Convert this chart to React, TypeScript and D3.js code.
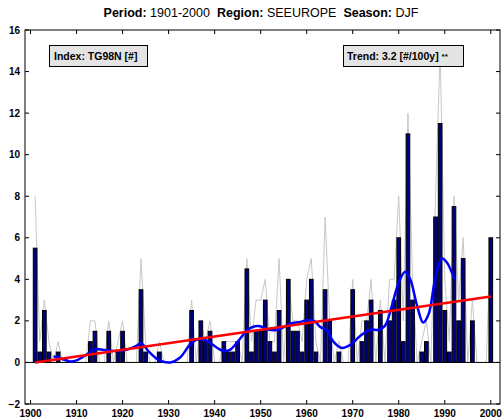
import React from 'react';
import * as d3 from 'd3';

const startYear = 1901;
const barValues = [
  5.5, 0.5, 2.5, 0.5, 0, 0.5, 0, 0, 0, 0,
  0, 0, 1.0, 1.5, 0, 0, 1.5, 0, 0.5, 1.5,
  0, 0, 0, 3.5, 0.5, 0, 0, 0.5, 0, 0,
  0, 0, 0, 0, 2.5, 0, 2.0, 1.0, 1.5, 0,
  0, 1.0, 0.5, 0.5, 1.0, 0, 4.5, 0.5, 1.5, 1.5,
  3.0, 1.0, 0.5, 2.5, 0, 4.0, 1.5, 1.5, 0.5, 3.0,
  4.0, 0.5, 0, 3.5, 2.0, 0, 0.5, 0, 0, 3.5,
  0, 1.0, 2.0, 3.0, 0, 2.5, 0, 2.0, 3.0, 6.0,
  1.0, 11.0, 3.0, 0, 0.5, 1.0, 0, 7.0, 11.5, 2.5,
  0.5, 7.5, 2.0, 5.0, 0, 2.0, 0, 0, 0, 6.0,
];
const grayValues = [
  8, 1, 3, 1, 0, 1, 0, 0, 0, 0,
  0, 0, 2, 2, 0, 0, 2, 0, 1, 2,
  0, 0, 0, 5, 1, 0, 0, 1, 0, 0,
  0, 0, 0, 0, 3, 0, 2, 1, 2, 0,
  0, 1, 1, 1, 1, 0, 5, 1, 3, 3,
  4, 1, 1, 5, 0, 4, 2, 2, 1, 4,
  5, 1, 0, 7, 2, 0, 1, 0, 0, 4,
  0, 2, 2, 4, 0, 3, 0, 4, 4, 8,
  2, 12, 4, 0, 1, 2, 0, 8, 15, 4,
  1, 8, 3, 6, 0, 3, 0, 0, 0, 6,
];
const smoothYears = [
  1905, 1906.5, 1908.6, 1910, 1912, 1914, 1916, 1919, 1921, 1923, 1924, 1925.6, 1927, 1928,
  1930.3, 1932.5, 1934.7, 1936.1, 1937.6, 1939, 1940.5, 1941.9, 1943.4, 1945.2, 1947, 1948.4,
  1949.9, 1951.4, 1953.2, 1954.6, 1956.4, 1958.6, 1960, 1961.6, 1963, 1964.4, 1965.8, 1967.6,
  1969.5, 1971.6, 1973.8, 1975.6, 1977, 1978.5, 1980, 1981.4, 1982.5, 1984, 1985.3, 1986.5,
  1987.9, 1989.4, 1990.5, 1992.1,
];
const smoothValues = [
  0.3, 0.2, 0.05, 0.1, 0.35, 0.64, 0.6, 0.55, 0.62, 0.8, 0.93, 0.55, 0.25, 0.1,
  0.0, 0.24, 0.88, 1.1, 1.1, 0.95, 0.71, 0.55, 0.62, 1.05, 1.53, 1.72,
  1.74, 1.6, 1.55, 1.65, 1.87, 1.95, 2.03, 2.0, 1.7, 1.55, 1.0, 0.7,
  0.85, 1.27, 1.57, 1.57, 1.76, 2.72, 3.85, 4.36, 4.0, 2.72, 1.92, 2.33,
  4.0, 5.0, 4.8, 4.0,
];
const trendYears = [1901, 2000];
const trendValues = [0.0, 3.17];
const xTicks = [1900, 1910, 1920, 1930, 1940, 1950, 1960, 1970, 1980, 1990, 2000];
const yTicks = [-2, 0, 2, 4, 6, 8, 10, 12, 14, 16];

const W = 502;
const H = 420;
const L = 25, R = 500, T = 30, B = 404;
const FONT = '"Liberation Sans", Arial, sans-serif';

export default function App() {
  const x = d3.scaleLinear().domain([1898.8, 2002]).range([L, R]);
  const y = d3.scaleLinear().domain([-2, 16]).range([B, T]);
  const years = barValues.map((_, i) => startYear + i);

  const grayLine = d3.line<number>().x((_, i) => x(years[i])).y((d) => y(d))(grayValues) || '';
  const smoothLine = d3
    .line<number>()
    .x((_, i) => x(smoothYears[i]))
    .y((d) => y(d))
    .curve(d3.curveCatmullRom.alpha(0.5))(smoothValues) || '';
  const trendLine = d3.line<number>().x((_, i) => x(trendYears[i])).y((d) => y(d))(trendValues) || '';

  const bw = x(1900.4) - x(1899.6);

  return (
    <svg width={W} height={H} style={{ position: 'absolute', left: 0, top: 0, background: '#fff' }} fontFamily={FONT}>
      <rect x={0} y={0} width={W} height={H} fill="#fff" />
      <text x={261} y={17} textAnchor="middle" fontSize={12.5} fill="#000">
        <tspan fontWeight="bold">Period:</tspan>
        <tspan> 1901-2000</tspan>
        <tspan fontWeight="bold" dx={7}>Region:</tspan>
        <tspan> SEEUROPE</tspan>
        <tspan fontWeight="bold" dx={7}>Season:</tspan>
        <tspan> DJF</tspan>
      </text>

      <path d={grayLine} fill="none" stroke="#c8c8c8" strokeWidth={1} />
      <line x1={L} x2={R} y1={y(0)} y2={y(0)} stroke="#000" strokeWidth={1} />
      {barValues.map((v, i) => (
        <rect
          key={i}
          x={x(years[i]) - bw / 2}
          y={y(v)}
          width={bw}
          height={Math.max(0, y(0) - y(v))}
          fill="#000080"
          stroke="#000"
          strokeWidth={1}
        />
      ))}
      <path d={smoothLine} fill="none" stroke="#0000ff" strokeWidth={2.5} />
      <path d={trendLine} fill="none" stroke="#ff0000" strokeWidth={2.5} />

      <rect x={L} y={T} width={R - L} height={B - T} fill="none" stroke="#000" strokeWidth={1} />
      {xTicks.map((t) => (
        <g key={t}>
          <line x1={x(t)} x2={x(t)} y1={B} y2={B - 4} stroke="#000" />
          <line x1={x(t)} x2={x(t)} y1={T} y2={T + 4} stroke="#000" />
          <text x={x(t)} y={417} textAnchor="middle" fontSize={10} fontWeight="bold" fill="#000">
            {t}
          </text>
        </g>
      ))}
      {yTicks.map((t) => (
        <g key={t}>
          <line x1={L} x2={L + 4} y1={y(t)} y2={y(t)} stroke="#000" />
          <line x1={R} x2={R - 4} y1={y(t)} y2={y(t)} stroke="#000" />
          <text x={20} y={y(t) + 3.5} textAnchor="end" fontSize={10} fontWeight="bold" fill="#000">
            {t < 0 ? '\u2212' + Math.abs(t) : t}
          </text>
        </g>
      ))}

      <rect x={49.5} y={45.5} width={98} height={21} fill="#e4e4e4" stroke="#000" strokeWidth={1} />
      <text x={54} y={60} fontSize={10.5} fontWeight="bold" fill="#000">Index: TG98N [#]</text>
      <rect x={343.5} y={45.5} width={120} height={21} fill="#e4e4e4" stroke="#000" strokeWidth={1} />
      <text x={347} y={60} fontSize={10.5} fontWeight="bold" fill="#000">
        Trend: 3.2 [#/100y] <tspan fontSize={8} dy={-1}>**</tspan>
      </text>
    </svg>
  );
}
